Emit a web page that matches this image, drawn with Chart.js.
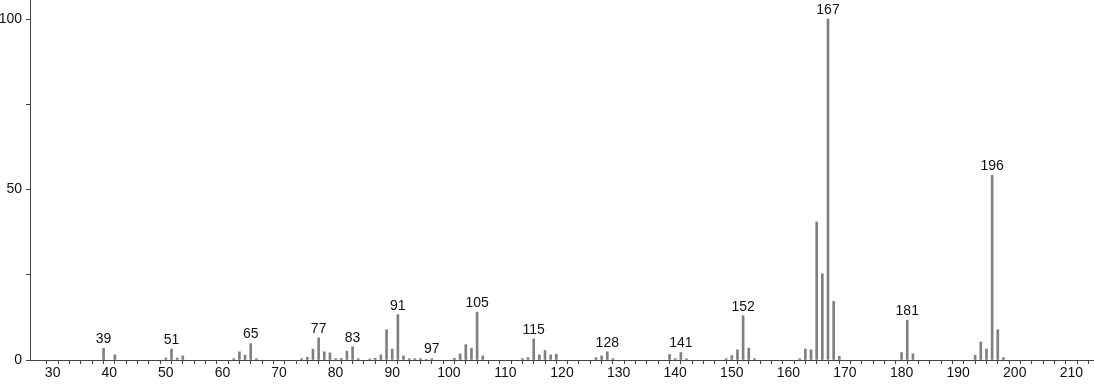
<!DOCTYPE html>
<html>
<head>
<meta charset="utf-8">
<script src="https://cdn.jsdelivr.net/npm/chart.js@4/dist/chart.umd.min.js"></script>
<style>
  html, body { margin: 0; padding: 0; background: #fff; }
  #wrap { width: 1094px; height: 384px; position: relative; }
</style>
</head>
<body>
<div id="wrap"><canvas id="ms"></canvas></div>
<script>
// mass spectrum — m/z vs relative intensity

const mzValues = [39,41,50,51,52,53,62,63,64,65,66,74,75,76,77,78,79,80,81,82,83,84,86,87,88,89,90,91,92,93,94,95,96,97,
  101,102,103,104,105,106,113,114,115,116,117,118,119,126,127,128,129,139,140,141,142,149,150,151,152,153,154,
  162,163,164,165,166,167,168,169,180,181,182,193,194,195,196,197,198];
const intensities = [3.4,1.5,0.6,3.2,0.6,1.2,0.4,2.4,1.4,4.8,0.4,0.4,0.8,3.2,6.5,2.4,2.1,0.4,0.5,2.6,3.9,0.4,0.3,0.5,1.5,8.9,3.2,13.3,1.2,0.4,0.4,0.4,0.2,0.4,
  0.5,1.8,4.5,3.4,14.0,1.2,0.4,0.7,6.2,1.5,2.8,1.5,1.7,0.7,1.2,2.4,0.4,1.6,0.4,2.2,0.4,0.4,1.3,3.0,13.0,3.5,0.4,
  0.4,3.2,3.0,40.5,25.3,100,17.2,1.1,2.2,11.7,1.8,1.4,5.3,3.2,54.2,8.9,0.7];
const labelledPeaks = [39,51,65,77,83,91,97,105,115,128,141,152,167,181,196];
const yTicks = [0,25,50,75,100];
const yTickLabels = ['0','','50','','100'];

const FONT = { family: '"Liberation Sans", Arial, sans-serif', size: 14 };

const peakLabels = {
  id: 'peakLabels',
  afterDatasetsDraw(chart) {
    const { ctx, scales: { x, y } } = chart;
    ctx.save();
    ctx.font = `${FONT.size}px ${FONT.family}`;
    ctx.fillStyle = '#111';
    ctx.textAlign = 'center';
    ctx.textBaseline = 'bottom';
    labelledPeaks.forEach(m => {
      const i = mzValues.indexOf(m);
      if (i < 0) return;
      ctx.fillText(String(m), x.getPixelForValue(m), y.getPixelForValue(intensities[i]) - 2);
    });
    ctx.restore();
  }
};

new Chart(document.getElementById('ms'), {
  type: 'bar',
  data: {
    datasets: [{
      data: mzValues.map((m, i) => ({ x: m, y: intensities[i] })),
      backgroundColor: '#808080',
      borderWidth: 0,
      barThickness: 2
    }]
  },
  options: {
    responsive: true,
    maintainAspectRatio: false,
    animation: false,
    layout: { padding: 0 },
    plugins: { legend: { display: false }, tooltip: { enabled: false } },
    scales: {
      x: {
        type: 'linear',
        min: 26,
        max: 214,
        offset: false,
        border: { color: '#444', width: 1 },
        grid: { drawOnChartArea: false, drawTicks: true, tickLength: 4, tickColor: '#444' },
        afterBuildTicks: s => {
          const t = [];
          for (let v = 30; v <= 214; v += 2) t.push({ value: v });
          s.ticks = t;
        },
        afterFit: s => { s.height = 24; s.paddingLeft = 0; s.paddingRight = 0; },
        ticks: {
          autoSkip: false,
          maxRotation: 0,
          padding: 1,
          color: '#111',
          font: FONT,
          callback: v => (v % 10 === 0 && v <= 210) ? String(v) : ''
        }
      },
      y: {
        min: 0,
        max: 105.6,
        border: { color: '#444', width: 1 },
        grid: { drawOnChartArea: false, drawTicks: true, tickLength: 4, tickColor: '#444' },
        afterBuildTicks: s => { s.ticks = yTicks.map(v => ({ value: v })); },
        afterFit: s => { s.width = 30; s.paddingTop = 0; s.paddingBottom = 0; },
        ticks: {
          padding: 4,
          color: '#111',
          font: FONT,
          callback: v => yTickLabels[yTicks.indexOf(v)] ?? ''
        }
      }
    }
  },
  plugins: [peakLabels]
});
</script>
</body>
</html>
